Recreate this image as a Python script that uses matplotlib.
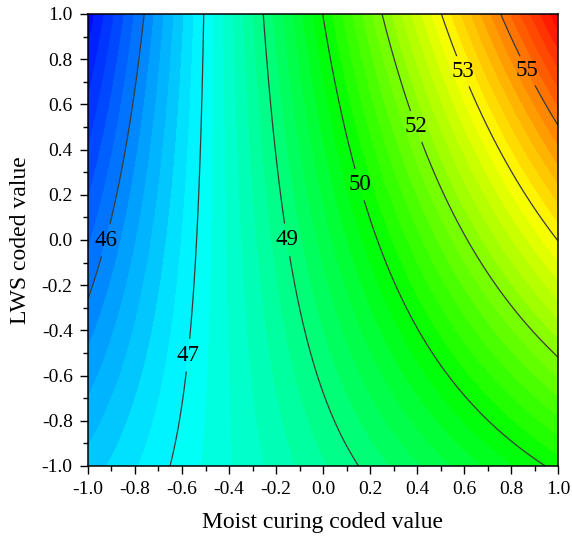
"""Contour plot of the fitted response surface (moist curing vs LWS)."""

import numpy as np
import matplotlib

matplotlib.use("Agg")

import matplotlib.pyplot as plt  # noqa: E402
import matplotlib.ticker as mticker  # noqa: E402
from matplotlib.colors import LinearSegmentedColormap  # noqa: E402

# -- Quadratic model ----------------------------------------------------------
# z = b0 + b1*x + b2*y + b12*x*y + b11*x^2 + b22*y^2
b0 = 49.597
b_lin = [3.904, 0.896]      # x (moist curing), y (LWS)
b_int = 2.029               # x*y
b_quad = [0.011, 0.015]     # x^2, y^2

# Coded-value axis range
x_range = [-1.0, 1.0]
y_range = [-1.0, 1.0]

# Filled levels and the labelled major lines
fill_lo, fill_hi, fill_step = 44.5, 56.5, 0.25
line_levels = [46.0, 47.5, 49.0, 50.5, 52.0, 53.5, 55.0]
line_labels = ["46", "47", "49", "50", "52", "53", "55"]
label_pos_x = [-0.928, -0.574, -0.157, 0.149, 0.391, 0.587, 0.860]
label_pos_y = [0.000, -0.510, 0.000, 0.243, 0.500, 0.743, 0.743]

rainbow = ["#0000ff", "#00ffff", "#00ff00", "#ffff00", "#ff0000"]

plt.rcParams["font.family"] = ["Liberation Serif", "DejaVu Serif"]

fig = plt.figure(figsize=(5.72, 5.43), dpi=100)
ax = fig.add_axes([88 / 572, 1 - 466 / 543, 470 / 572, 452 / 543])

gx, gy = np.meshgrid(np.linspace(*x_range, 301), np.linspace(*y_range, 301))
gz = (b0 + b_lin[0] * gx + b_lin[1] * gy + b_int * gx * gy
      + b_quad[0] * gx ** 2 + b_quad[1] * gy ** 2)

levels = np.arange(fill_lo, fill_hi + fill_step / 2, fill_step)
cmap = LinearSegmentedColormap.from_list("origin_rainbow", rainbow)
ax.contourf(gx, gy, gz, levels=levels, cmap=cmap, extend="both")

cs = ax.contour(gx, gy, gz, levels=line_levels, colors="#3a3a3a", linewidths=0.9)
texts = ax.clabel(
    cs,
    fmt=dict(zip(line_levels, line_labels)),
    fontsize=16.5,
    colors="black",
    inline=True,
    inline_spacing=5,
    manual=list(zip(label_pos_x, label_pos_y)),
)
for t in texts:
    t.set_rotation(0)

ax.set_xlim(*x_range)
ax.set_ylim(*y_range)
ax.xaxis.set_major_locator(mticker.MultipleLocator(0.2))
ax.yaxis.set_major_locator(mticker.MultipleLocator(0.2))
ax.xaxis.set_minor_locator(mticker.MultipleLocator(0.1))
ax.yaxis.set_minor_locator(mticker.MultipleLocator(0.1))
ax.xaxis.set_major_formatter(mticker.FormatStrFormatter("%.1f"))
ax.yaxis.set_major_formatter(mticker.FormatStrFormatter("%.1f"))

ax.tick_params(which="major", direction="out", length=6, width=1.0, labelsize=14)
ax.tick_params(which="minor", direction="out", length=3.5, width=1.0)
ax.tick_params(axis="x", which="major", pad=5)
ax.tick_params(axis="y", which="major", pad=5)
for spine in ax.spines.values():
    spine.set_linewidth(1.1)

ax.set_xlabel("Moist curing coded value", fontsize=17, labelpad=10)
ax.set_ylabel("LWS coded value", fontsize=17, labelpad=8)

fig.savefig("out.png", dpi=100)
plt.close(fig)
